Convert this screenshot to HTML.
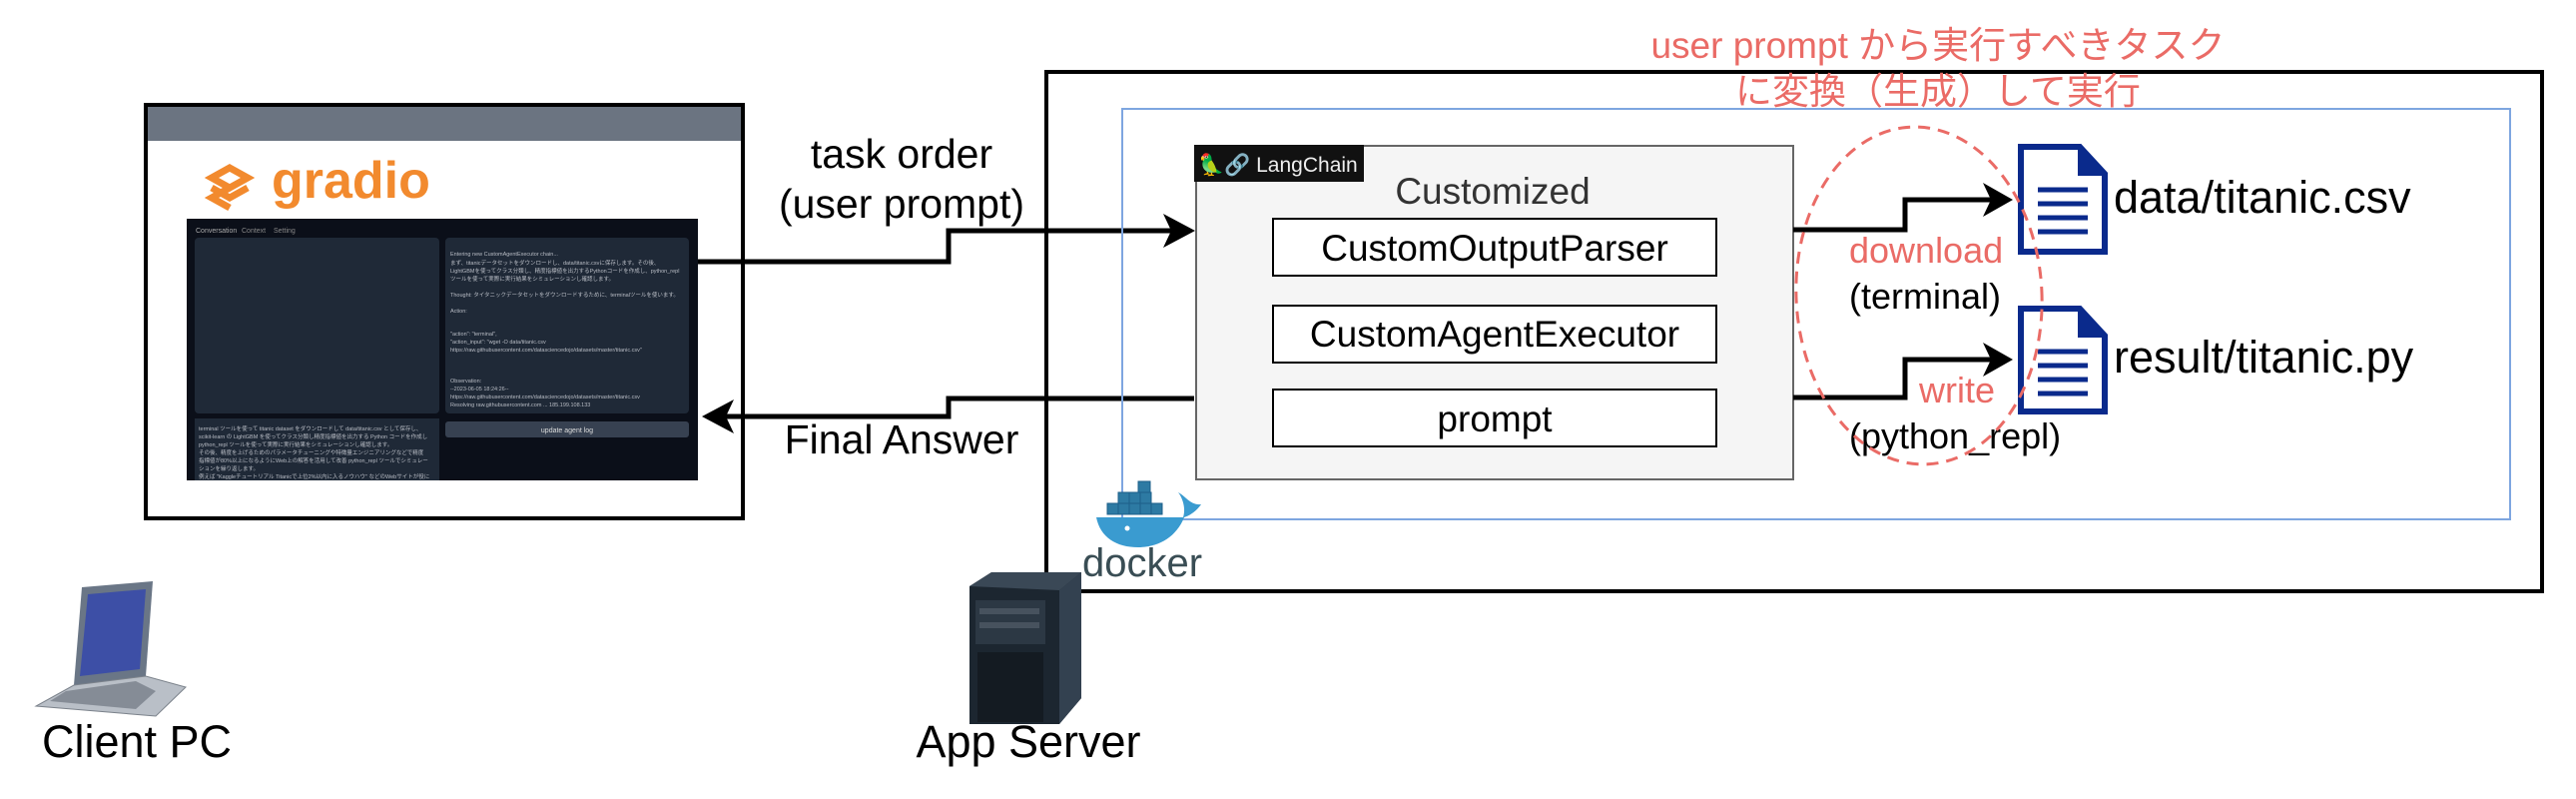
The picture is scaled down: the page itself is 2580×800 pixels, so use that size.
<!DOCTYPE html>
<html><head><meta charset="utf-8"><style>
html,body{margin:0;padding:0;background:#fff;}
svg{display:block;font-family:"Liberation Sans","Noto Sans CJK JP",sans-serif;}
</style></head><body>
<svg width="2580" height="800" viewBox="0 0 2580 800" xmlns="http://www.w3.org/2000/svg">
<!-- Client window -->
<rect x="146" y="105" width="598" height="414" fill="#fff" stroke="#000" stroke-width="4"/>
<rect x="148" y="107" width="594" height="34" fill="#6b7481"/>
<!-- gradio logo -->
<g transform="translate(208,164)" fill="none" stroke="#f28a2e" stroke-width="7">
<path d="M22 4 L40 14 L22 24 L4 14 Z"/><path d="M4 24 L22 34 L40 24"/><path d="M22 24 L4 34 L22 44"/>
</g>
<text x="272" y="198" font-size="52" font-weight="bold" fill="#f28a2e">gradio</text>
<!-- screenshot -->
<rect x="187" y="219" width="512" height="262" fill="#0b0f19"/>
<text x="196" y="233" font-size="7" fill="#aaa">Conversation</text><text x="242" y="233" font-size="7" fill="#888">Context</text><text x="274" y="233" font-size="7" fill="#888">Setting</text>
<rect x="195" y="238" width="245" height="176" rx="4" fill="#1f2937"/>
<rect x="446" y="238" width="244" height="176" rx="4" fill="#1f2937"/>
<rect x="195" y="419" width="245" height="62" fill="#1f2937"/>
<rect x="446" y="422" width="244" height="16" rx="3" fill="#374151"/>
<text x="568" y="433" font-size="7" fill="#ddd" text-anchor="middle">update agent log</text>
<g fill="#b8bcc4" font-size="5.5">
<text x="451" y="256">Entering new CustomAgentExecutor chain...</text>
<text x="451" y="265">まず、titanicデータセットをダウンロードし、data/titanic.csvに保存します。その後、</text>
<text x="451" y="273">LightGBMを使ってクラス分類し、精度指標値を出力するPythonコードを作成し、python_repl</text>
<text x="451" y="281">ツールを使って実際に実行結果をシミュレーションし確認します。</text>
<text x="451" y="297">Thought: タイタニックデータセットをダウンロードするために、terminalツールを使います。</text>
<text x="451" y="313">Action:</text>
<text x="451" y="336">"action": "terminal",</text>
<text x="451" y="344">"action_input": "wget -O data/titanic.csv</text>
<text x="451" y="352">https://raw.githubusercontent.com/datasciencedojo/datasets/master/titanic.csv"</text>
<text x="451" y="383">Observation:</text>
<text x="451" y="391">--2023-06-05 18:24:26--</text>
<text x="451" y="399">https://raw.githubusercontent.com/datasciencedojo/datasets/master/titanic.csv</text>
<text x="451" y="407">Resolving raw.githubusercontent.com ... 185.199.108.133</text>
<text x="199" y="431">terminal ツールを使って titanic dataset をダウンロードして data/titanic.csv として保存し、</text>
<text x="199" y="439">scikit-learn の LightGBM を使ってクラス分類し精度指標値を出力する Python コードを作成し</text>
<text x="199" y="447">python_repl ツールを使って実際に実行結果をシミュレーションし確認します。</text>
<text x="199" y="455">その後、精度を上げるためのパラメータチューニングや特徴量エンジニアリングなどで精度</text>
<text x="199" y="463">指標値が80%以上になるようにWeb上の解答を活用して改善 python_repl ツールでシミュレー</text>
<text x="199" y="471">ションを繰り返します。</text>
<text x="199" y="479">例えば "Kaggleチュートリアル Titanicで上位2%以内に入るノウハウ" などのWebサイトが役に</text>
</g>
<!-- arrows left -->
<polyline points="699,262 950,262 950,231 1180,231" fill="none" stroke="#000" stroke-width="5"/>
<path d="M1197 231 L1165 214 L1173 231 L1165 248 Z" fill="#000"/>
<polyline points="1196,399 950,399 950,417 720,417" fill="none" stroke="#000" stroke-width="5"/>
<path d="M703 417 L735 400 L727 417 L735 434 Z" fill="#000"/>
<text x="903" y="168" font-size="41" text-anchor="middle">task order</text>
<text x="903" y="218" font-size="41" text-anchor="middle">(user prompt)</text>
<text x="903" y="454" font-size="41" text-anchor="middle">Final Answer</text>
<!-- server boxes -->
<rect x="1048" y="72" width="1498" height="520" fill="none" stroke="#000" stroke-width="4"/>
<rect x="1124" y="109" width="1390" height="411" fill="none" stroke="#7ea6e0" stroke-width="2"/>
<rect x="1198" y="146" width="598" height="334" fill="#f5f5f5" stroke="#666" stroke-width="2"/>
<rect x="1196" y="145" width="170" height="37" fill="#111"/>
<text x="1200" y="172" font-size="21" fill="#eee">🦜🔗 LangChain</text>
<text x="1495" y="204" font-size="37" fill="#333" text-anchor="middle">Customized</text>
<rect x="1275" y="219" width="444" height="57" fill="#fff" stroke="#000" stroke-width="2"/>
<rect x="1275" y="306" width="444" height="57" fill="#fff" stroke="#000" stroke-width="2"/>
<rect x="1275" y="390" width="444" height="57" fill="#fff" stroke="#000" stroke-width="2"/>
<text x="1497" y="261" font-size="37" text-anchor="middle">CustomOutputParser</text>
<text x="1497" y="347" font-size="37" text-anchor="middle">CustomAgentExecutor</text>
<text x="1497" y="432" font-size="37" text-anchor="middle">prompt</text>
<!-- right arrows -->
<polyline points="1796,230 1908,230 1908,200 2000,200" fill="none" stroke="#000" stroke-width="5"/>
<path d="M2016 200 L1986 183 L1994 200 L1986 217 Z" fill="#000"/>
<polyline points="1796,398 1908,398 1908,360 2000,360" fill="none" stroke="#000" stroke-width="5"/>
<path d="M2016 360 L1986 343 L1994 360 L1986 377 Z" fill="#000"/>
<!-- file icons -->
<g fill="#fff" stroke="#0a2a8c" stroke-width="6">
<path d="M2024 147 L2083 147 L2108 174 L2108 252 L2024 252 Z"/>
<path d="M2024 309 L2083 309 L2108 336 L2108 412 L2024 412 Z"/>
</g>
<path d="M2081 145 L2111 176 L2081 176 Z" fill="#0a2a8c"/>
<path d="M2081 307 L2111 338 L2081 338 Z" fill="#0a2a8c"/>
<g stroke="#0a2a8c" stroke-width="5">
<line x1="2041" y1="190" x2="2091" y2="190"/><line x1="2041" y1="204" x2="2091" y2="204"/><line x1="2041" y1="218" x2="2091" y2="218"/><line x1="2041" y1="232" x2="2091" y2="232"/>
<line x1="2041" y1="352" x2="2091" y2="352"/><line x1="2041" y1="366" x2="2091" y2="366"/><line x1="2041" y1="380" x2="2091" y2="380"/><line x1="2041" y1="394" x2="2091" y2="394"/>
</g>
<text x="2117" y="213" font-size="45">data/titanic.csv</text>
<text x="2117" y="373" font-size="45">result/titanic.py</text>
<text x="1852" y="263" font-size="36" fill="#ea6b66">download</text>
<text x="1852" y="309" font-size="36">(terminal)</text>
<text x="1922" y="403" font-size="36" fill="#ea6b66">write</text>
<text x="1852" y="449" font-size="36">(python_repl)</text>
<ellipse cx="1922" cy="296" rx="123" ry="169" fill="none" stroke="#ea6b66" stroke-width="3" stroke-dasharray="12 8" transform="rotate(-3 1922 296)"/>
<text x="1941" y="58" font-size="37" fill="#ea6b66" text-anchor="middle">user prompt から実行すべきタスク</text>
<text x="1941" y="104" font-size="37" fill="#ea6b66" text-anchor="middle">に変換（生成）して実行</text>
<!-- docker -->
<g fill="#2d7aa3" stroke="#1d5f8a" stroke-width="1">
<rect x="1140" y="482" width="12" height="11"/>
<rect x="1120" y="493" width="11" height="11"/><rect x="1131" y="493" width="11" height="11"/><rect x="1142" y="493" width="11" height="11"/>
<rect x="1109" y="504" width="11" height="11"/><rect x="1120" y="504" width="11" height="11"/><rect x="1131" y="504" width="11" height="11"/><rect x="1142" y="504" width="11" height="11"/><rect x="1153" y="504" width="11" height="11"/>
</g>
<path d="M1098 518 L1185 518 C1188 508 1184 498 1180 493 C1188 497 1192 506 1203 505 C1198 512 1192 516 1186 518 C1178 538 1160 548 1140 548 C1118 548 1102 538 1098 518 Z" fill="#3a9bd0"/>
<circle cx="1129" cy="529" r="2.5" fill="#fff"/>
<text x="1084" y="577" font-size="40" fill="#394d54">docker</text>
<!-- server -->
<g transform="translate(971,573)">
<path d="M0 14 L22 0 L112 0 L112 126 L90 152 L0 152 Z" fill="#1c2630"/>
<path d="M90 18 L112 0 L112 126 L90 152 Z" fill="#334150"/>
<path d="M0 14 L22 0 L112 0 L90 18 Z" fill="#3a4856"/>
<rect x="6" y="28" width="70" height="44" fill="#2c3844"/>
<rect x="10" y="36" width="60" height="6" fill="#47525e"/><rect x="10" y="50" width="60" height="6" fill="#47525e"/>
<rect x="8" y="80" width="66" height="70" fill="#141b22"/>
</g>
<!-- laptop -->
<g transform="translate(36,582)">
<path d="M46 6 L117 0 L110 95 L38 104 Z" fill="#6a7686"/>
<path d="M52 13 L110 8 L104 88 L44 95 Z" fill="#3d4fa6"/>
<path d="M38 104 L110 95 L150 106 L120 135 L0 125 Z" fill="#b9bfc7" stroke="#7b828b"/>
<path d="M30 110 L100 100 L120 110 L100 128 L14 120 Z" fill="#858c96"/>
</g>
<text x="137" y="758" font-size="45" text-anchor="middle">Client PC</text>
<text x="1030" y="758" font-size="45" text-anchor="middle">App Server</text>
</svg>
</body></html>
